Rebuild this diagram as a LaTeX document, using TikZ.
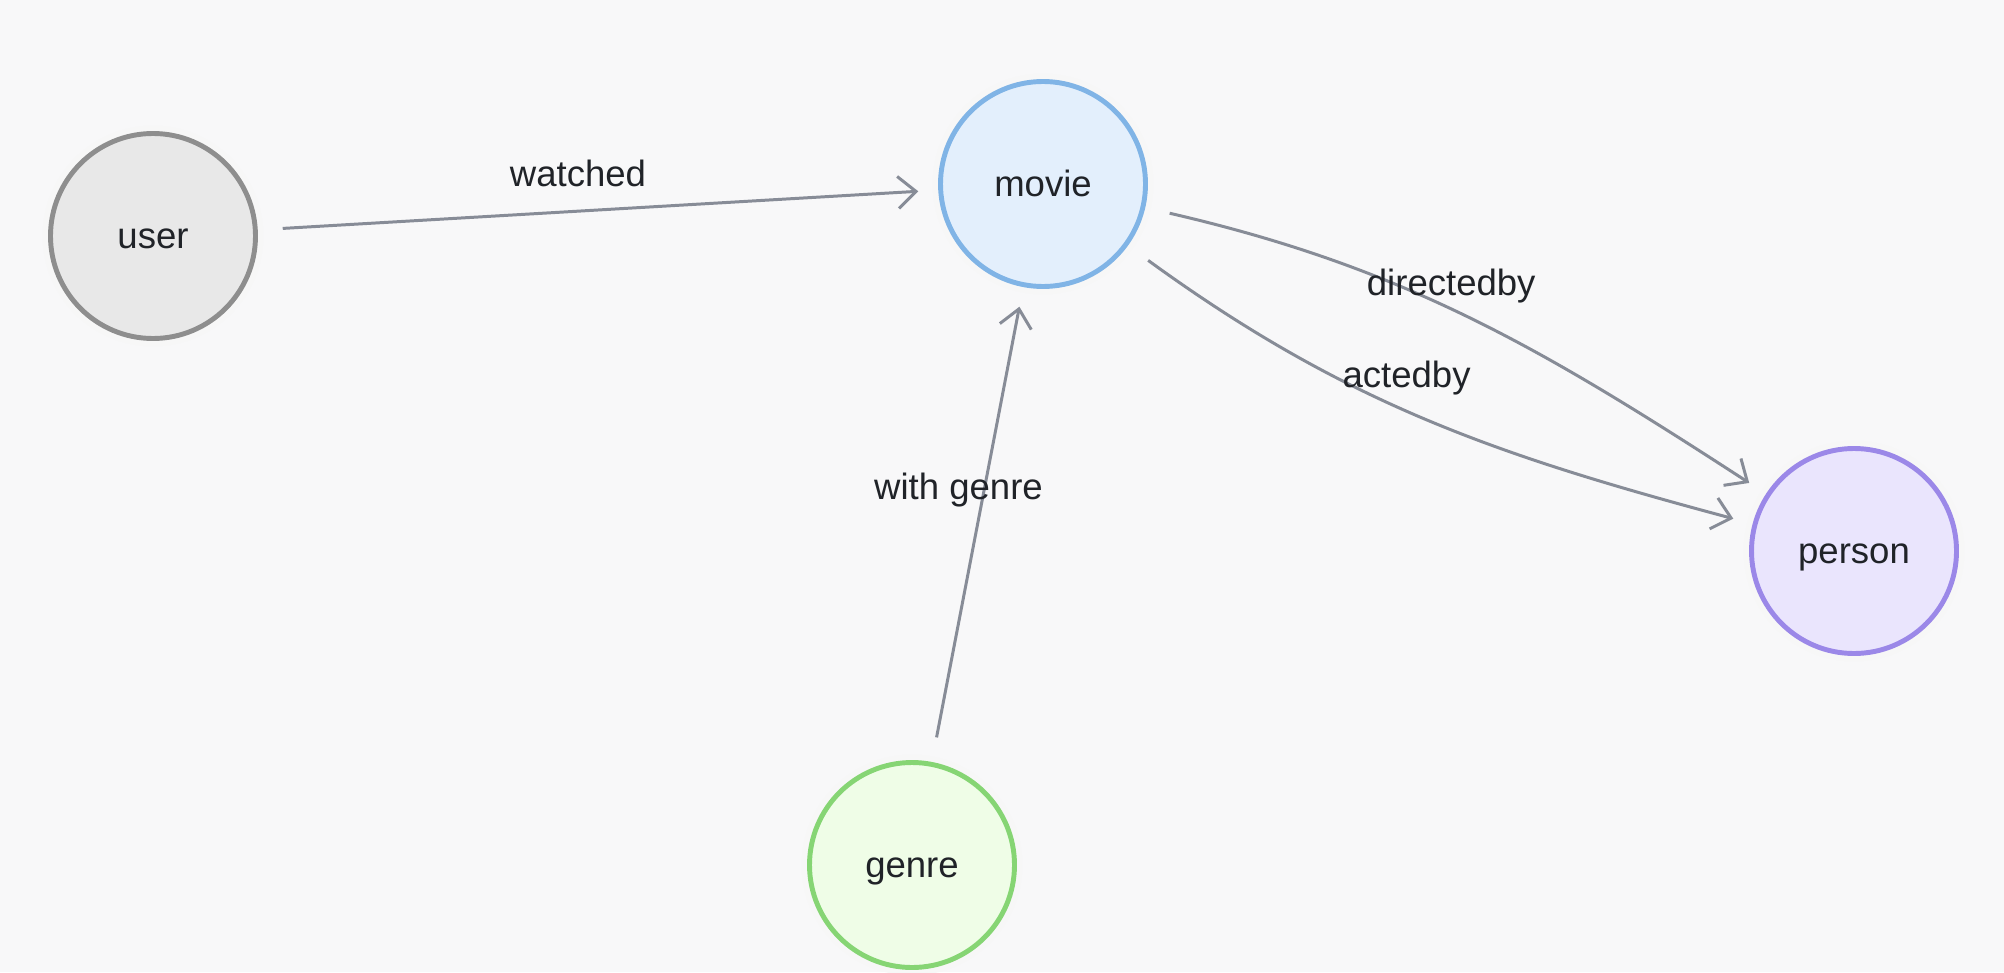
\documentclass[tikz,border=0pt]{standalone}
\usepackage{fontspec}
\setmainfont{Liberation Sans}
\usepackage{xcolor}
\definecolor{bgpaper}{HTML}{F8F8F9}
\definecolor{edgegrey}{HTML}{878C97}
\definecolor{inkdark}{HTML}{202328}
\definecolor{usrline}{HTML}{8E8E8E}
\definecolor{usrfill}{HTML}{E8E8E8}
\definecolor{movline}{HTML}{80B4E6}
\definecolor{movfill}{HTML}{E3EFFC}
\definecolor{perline}{HTML}{9B88E8}
\definecolor{perfill}{HTML}{EAE5FD}
\definecolor{genline}{HTML}{86D574}
\definecolor{genfill}{HTML}{EFFDE7}
\usepackage{tikz}
\usetikzlibrary{arrows.meta}
\tikzset{
  gn/.style={circle, minimum size=20.5mm, inner sep=0pt, line width=1.4pt,
             font=\fontsize{10.4}{12}\selectfont, text=inkdark,
             text height=0.72em, text depth=0pt,
             preaction={draw=black!3, line width=4.5pt}},
  gngrey/.style={gn, draw=usrline, fill=usrfill},
  gnblue/.style={gn, draw=movline, fill=movfill},
  gnpurple/.style={gn, draw=perline, fill=perfill},
  gngreen/.style={gn, draw=genline, fill=genfill},
  ed/.style={-{Straight Barb[length=1.8mm, width=3.2mm]}, draw=edgegrey,
             line width=0.85pt, shorten <=2.5mm, shorten >=2mm},
  el/.style={anchor=base, inner sep=0pt, font=\fontsize{10.4}{12}\selectfont,
             text=inkdark},
}

\begin{document}
\begin{tikzpicture}
  \fill[bgpaper] (0,0) rectangle (20.04,9.72);
  \useasboundingbox (0,0) rectangle (20.04,9.72);
  \node[gngrey] (user) at (1.53,7.36) {user};
  \node[gnblue] (movie) at (10.43,7.88) {movie};
  \node[gnpurple] (person) at (18.54,4.21) {person};
  \node[gngreen] (genre) at (9.12,1.07) {genre};
  \draw[ed] (user) -- node[el, xshift=-2mm, yshift=2.3mm] {watched} (movie);
  \draw[ed] (genre) -- node[el, xshift=-1.9mm, yshift=2.55mm] {with genre} (movie);
  \draw[ed] (movie) to[out=-13, in=147]
    node[el, xshift=-1.8mm, yshift=2.3mm] {directedby} (person);
  \draw[ed] (movie) to[out=-36, in=165]
    node[el, xshift=-1.8mm, yshift=3mm] {actedby} (person);
\end{tikzpicture}
\end{document}
